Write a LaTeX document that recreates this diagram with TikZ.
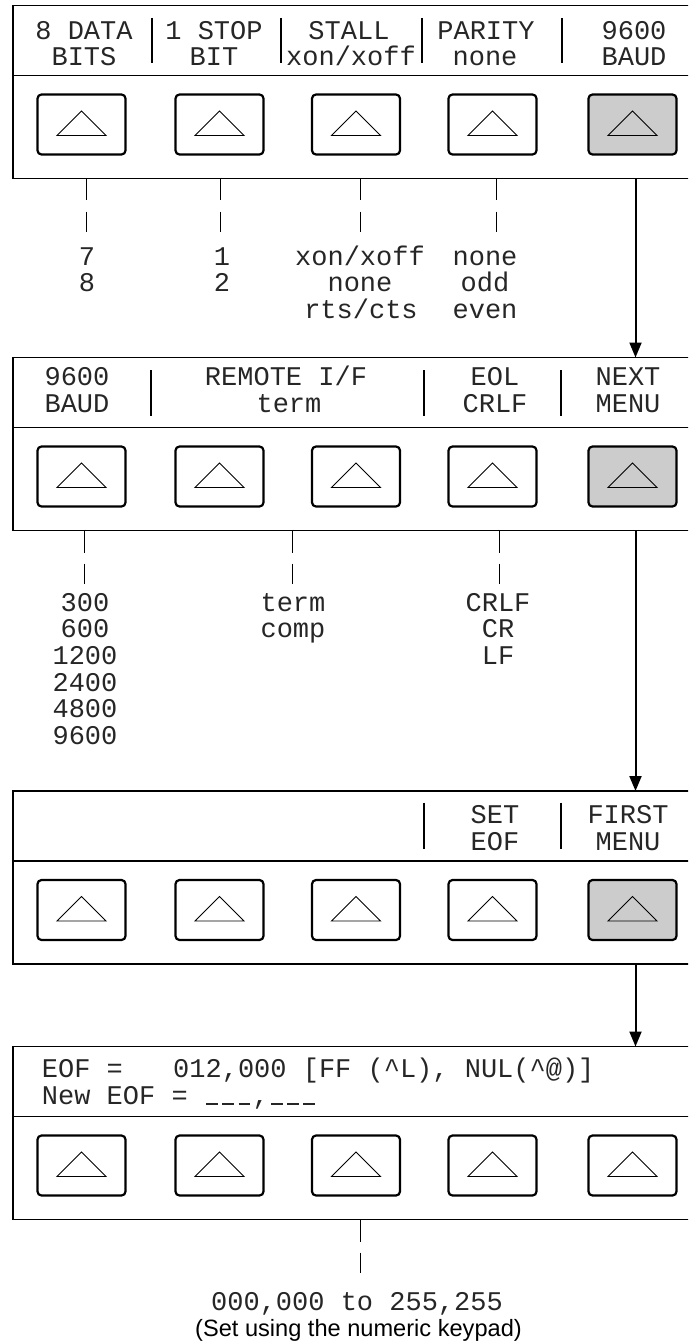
\documentclass[tikz,border=0pt]{standalone}
\usepackage{fontspec}
\setmainfont{Liberation Sans}
\newfontfamily\lcdfont{Liberation Mono}
\usetikzlibrary{arrows.meta}
\definecolor{keygray}{RGB}{204,204,204}
\newcommand\lcdblank{\makebox[16.2pt]{\rule[-0.5pt]{11.5pt}{1.4pt}}}
\begin{document}
\begin{tikzpicture}[x=1pt,y=-1pt,
 panelbox/.style={draw=black, line width=1.1pt, minimum width=690pt, minimum height=173pt, inner sep=0pt, outer sep=0pt},
 panelline/.style={line width=1.1pt},
 btn/.style={draw, line width=2.2pt, rounded corners=4pt, minimum width=88pt, minimum height=60pt, inner sep=0pt},
 tri/.style={line width=0.9pt},
 sepline/.style={line width=2pt},
 lcd/.style={font=\lcdfont\fontsize{27pt}{27pt}\selectfont, text=black!85, inner sep=0pt, anchor=base},
 tick/.style={line width=0.9pt, dash pattern=on 22pt off 11pt on 20pt off 500pt},
 flow/.style={line width=2pt, -{Triangle[width=12pt,length=15pt]}},
 capt/.style={font=\fontsize{23.6pt}{24pt}\selectfont, inner sep=0pt, anchor=base}
]
\useasboundingbox (0,0) rectangle (688,1343);
\clip (0,0) rectangle (688,1343);

% ---------- panels, dividers, keys ----------
\foreach \T/\n/\g in {5.5/1/keygray, 357.5/2/keygray, 791/3/keygray, 1046.5/4/white} {
  \node[panelbox, anchor=north west] (p\n) at (13,\T) {};
  \draw[panelline] (13,\T+70) -- (703,\T+70);
  \foreach \cx/\k in {81.5/1,219.5/2,356/3,492.5/4,632.5/5} {
    \ifnum\k=5 \def\keyfill{\g}\else\def\keyfill{white}\fi
    \node[btn, fill=\keyfill] (b\n\k) at (\cx,\T+119) {};
    \draw[tri] ([shift={(-24.5,11)}]b\n\k.center) -- ([shift={(0,-13.5)}]b\n\k.center)
       -- ([shift={(24.5,11)}]b\n\k.center) -- cycle;
  }
}

% ---------- panel 1 labels ----------
\node[lcd] (l1a1) at (84,39.5) {8 DATA};
\node[lcd] (l1a2) at (84,66) {BITS};
\node[lcd] (l1b1) at (214,39.5) {1 STOP};
\node[lcd] (l1b2) at (214,66) {BIT};
\node[lcd] (l1c1) at (349,39.5) {STALL};
\node[lcd] (l1c2) at (351,66) {xon/xoff};
\node[lcd] (l1d1) at (486,39.5) {PARITY};
\node[lcd] (l1d2) at (485,66) {none};
\node[lcd] (l1e1) at (634,39.5) {9600};
\node[lcd] (l1e2) at (634,66) {BAUD};
\foreach \sx in {152,281,422,562} \draw[sepline] (\sx,18) -- (\sx,63.5);

% ---------- panel 2 labels ----------
\node[lcd] (l2a1) at (77,385.5) {9600};
\node[lcd] (l2a2) at (77,412) {BAUD};
\node[lcd] (l2b1) at (286,385.5) {REMOTE I/F};
\node[lcd] (l2b2) at (289,412) {term};
\node[lcd] (l2c1) at (495,385.5) {EOL};
\node[lcd] (l2c2) at (495,412) {CRLF};
\node[lcd] (l2d1) at (628,385.5) {NEXT};
\node[lcd] (l2d2) at (628,412) {MENU};
\foreach \sx in {151,424,561} \draw[sepline] (\sx,370) -- (\sx,415.5);

% ---------- panel 3 labels ----------
\node[lcd] (l3c1) at (495,823) {SET};
\node[lcd] (l3c2) at (495,850) {EOF};
\node[lcd] (l3d1) at (628,823) {FIRST};
\node[lcd] (l3d2) at (628,850) {MENU};
\foreach \sx in {424,561} \draw[sepline] (\sx,802.5) -- (\sx,848.5);

% ---------- panel 4 display ----------
\node[lcd, anchor=base west] (l4a) at (41.7,1077) {EOF =};
\node[lcd, anchor=base west] (l4b) at (173,1077) {012,000 [FF (\textasciicircum L), NUL(\textasciicircum @)]};
\node[lcd, anchor=base west] (l4c) at (41.7,1104) {New EOF = \lcdblank\lcdblank\lcdblank,\lcdblank\lcdblank\lcdblank};

% ---------- choices under panel 1 ----------
\node[lcd] (c1a1) at (87,265) {7};
\node[lcd] (c1a2) at (87,291.7) {8};
\node[lcd] (c1b1) at (222,265) {1};
\node[lcd] (c1b2) at (222,291.7) {2};
\node[lcd] (c1c1) at (360,265) {xon/xoff};
\node[lcd] (c1c2) at (360,291.7) {none};
\node[lcd] (c1c3) at (361,318.4) {rts/cts};
\node[lcd] (c1d1) at (485,265) {none};
\node[lcd] (c1d2) at (485,291.7) {odd};
\node[lcd] (c1d3) at (485,318.4) {even};

% ---------- choices under panel 2 ----------
\node[lcd] (c2a1) at (85,611) {300};
\node[lcd] (c2a2) at (85,637.7) {600};
\node[lcd] (c2a3) at (85,664.4) {1200};
\node[lcd] (c2a4) at (85,691.1) {2400};
\node[lcd] (c2a5) at (85,717.8) {4800};
\node[lcd] (c2a6) at (85,744.5) {9600};
\node[lcd] (c2b1) at (293,611) {term};
\node[lcd] (c2b2) at (293,637.7) {comp};
\node[lcd] (c2c1) at (498,611) {CRLF};
\node[lcd] (c2c2) at (498,637.7) {CR};
\node[lcd] (c2c3) at (498,664.4) {LF};

% ---------- range under panel 4 ----------
\node[lcd] (c4a) at (357,1310) {000,000 to 255,255};
\node[capt] (c4b) at (358.5,1336) {(Set using the numeric keypad)};

% ---------- dashed leaders ----------
\coordinate (t11) at (86,178.5);
\coordinate (t12) at (220,178.5);
\coordinate (t13) at (360,178.5);
\coordinate (t14) at (496,178.5);
\coordinate (t21) at (84,530.5);
\coordinate (t22) at (292,530.5);
\coordinate (t23) at (499,530.5);
\coordinate (t41) at (360,1219.5);
\draw[tick] (t11) -- (t11 |- c1a1.north);
\draw[tick] (t12) -- (t12 |- c1b1.north);
\draw[tick] (t13) -- (t13 |- c1c1.north);
\draw[tick] (t14) -- (t14 |- c1d1.north);
\draw[tick] (t21) -- (t21 |- c2a1.north);
\draw[tick] (t22) -- (t22 |- c2b1.north);
\draw[tick] (t23) -- (t23 |- c2c1.north);
\draw[tick] (t41) -- (t41 |- c4a.north);

% ---------- flow arrows ----------
\coordinate (ax) at (635.5,0);
\draw[flow] (ax |- p1.south) -- (ax |- p2.north);
\draw[flow] (ax |- p2.south) -- (ax |- p3.north);
\draw[flow] (ax |- p3.south) -- (ax |- p4.north);
\end{tikzpicture}
\end{document}
